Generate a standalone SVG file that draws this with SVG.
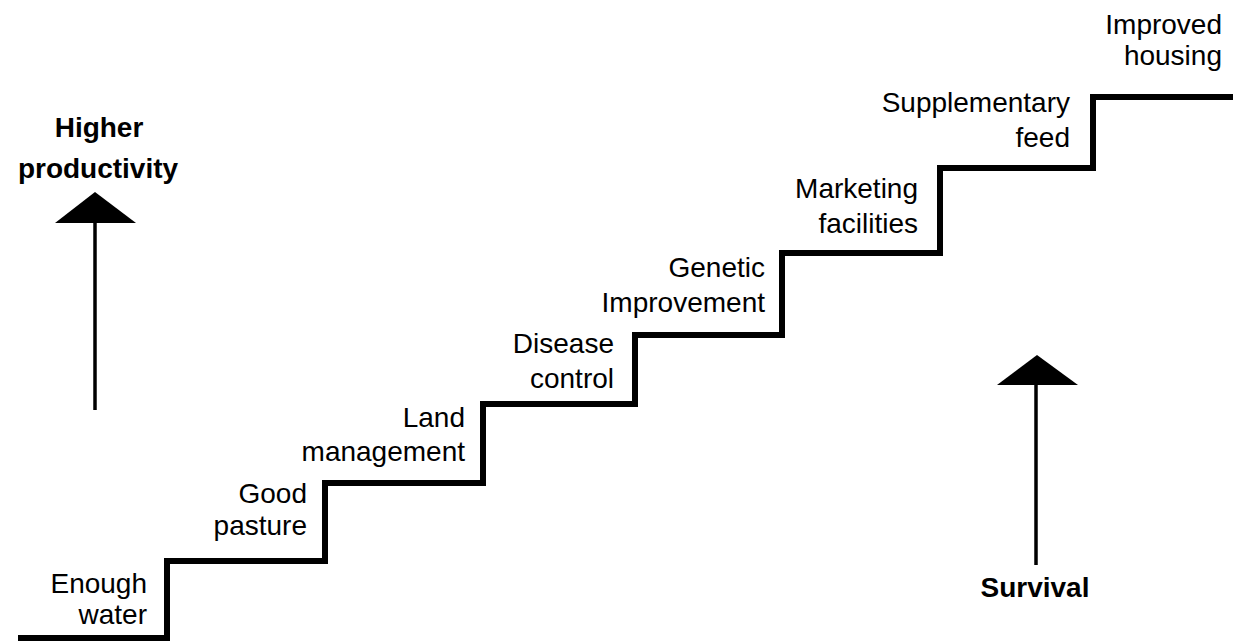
<svg xmlns="http://www.w3.org/2000/svg" width="1233" height="641" viewBox="0 0 1233 641">
<style>
.t{font-family:"Liberation Sans",Arial,sans-serif;font-size:28px;fill:#000;text-anchor:end}
.b{font-family:"Liberation Sans",Arial,sans-serif;font-size:28px;font-weight:bold;fill:#000;text-anchor:middle}
.stair{fill:none;stroke:#000;stroke-width:6;stroke-linejoin:miter}
.shaft{stroke:#000;stroke-width:3.5}
.head{fill:#000}
</style>
<rect width="1233" height="641" fill="#fff"/>
<g id="connectors">
<path class="stair" d="M18 638 H167 V561 H325 V483 H483 V404 H635 V335 H782 V253 H940 V168 H1093 V97 H1233"/>
<line class="shaft" x1="95" y1="222" x2="95" y2="410"/>
<polygon class="head" points="95,192 55,223 136,223"/>
<line class="shaft" x1="1036" y1="384" x2="1036" y2="565"/>
<polygon class="head" points="1037,355 997,385 1078,385"/>
</g>
<g id="higher-productivity"><text class="b" x="99" y="137">Higher</text><text class="b" x="98" y="178">productivity</text></g>
<g id="survival"><text class="b" x="1035" y="597">Survival</text></g>
<g id="enough-water"><text class="t" x="147" y="593">Enough</text><text class="t" x="147" y="624">water</text></g>
<g id="good-pasture"><text class="t" x="307" y="503">Good</text><text class="t" x="307" y="535">pasture</text></g>
<g id="land-management"><text class="t" x="465" y="427">Land</text><text class="t" x="465" y="461">management</text></g>
<g id="disease-control"><text class="t" x="614" y="353">Disease</text><text class="t" x="614" y="388">control</text></g>
<g id="genetic-improvement"><text class="t" x="765" y="277">Genetic</text><text class="t" x="765" y="312">Improvement</text></g>
<g id="marketing-facilities"><text class="t" x="918" y="198">Marketing</text><text class="t" x="918" y="233">facilities</text></g>
<g id="supplementary-feed"><text class="t" x="1070" y="112">Supplementary</text><text class="t" x="1070" y="147">feed</text></g>
<g id="improved-housing"><text class="t" x="1222" y="34">Improved</text><text class="t" x="1222" y="65">housing</text></g>
</svg>
